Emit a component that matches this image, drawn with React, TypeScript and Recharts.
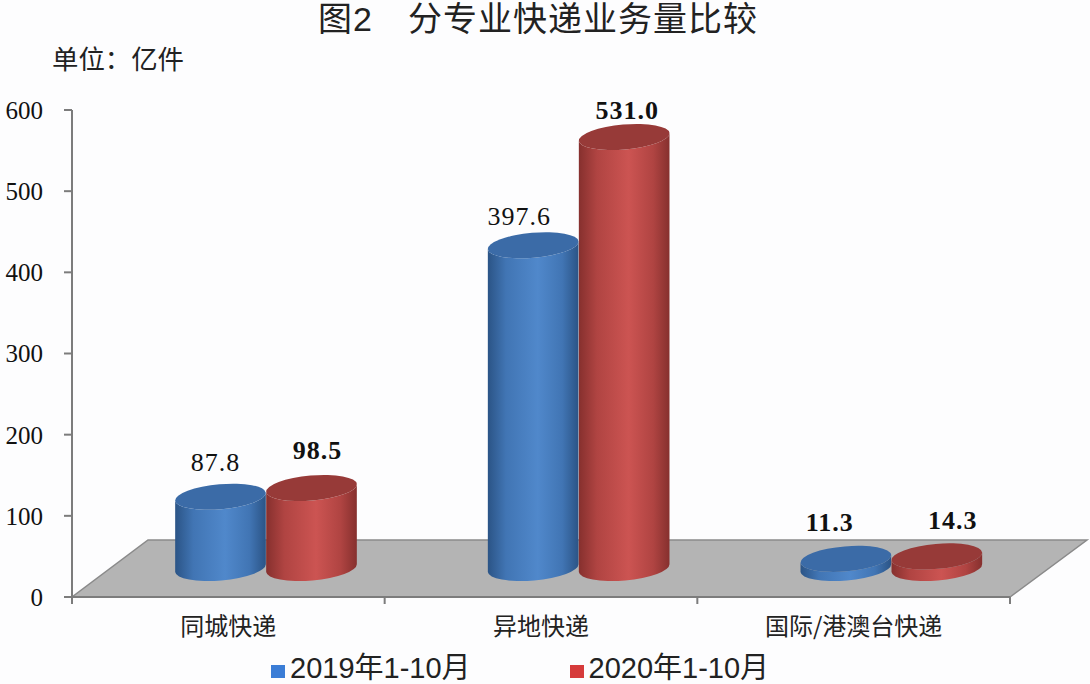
import { BarChart, Bar, XAxis, YAxis, Legend, LabelList, usePlotArea } from 'recharts'

const CATEGORIES = ['同城快递', '异地快递', '国际/港澳台快递']
const VALUES_2019 = [87.8, 397.6, 11.3]
const VALUES_2020 = [98.5, 531.0, 14.3]
const Y_TICKS = [0, 100, 200, 300, 400, 500, 600]
const NAME_2019 = '2019年1-10月'
const NAME_2020 = '2020年1-10月'

const data = CATEGORIES.map((name, i) => ({ name, a: VALUES_2019[i], b: VALUES_2020[i] }))

// the picture is a fake 3D chart: bars sit back on the floor by this much
const DEPTH_X = 38
const DEPTH_Y = 29
const RY = 12.5
const TILT = -5
const SERIF = '"Liberation Serif", serif'
const CJK = '"Noto Sans CJK SC", "Liberation Sans", sans-serif'
const MIXED = '"Liberation Sans", "Noto Sans CJK SC", sans-serif'
const AXIS = '#7c7c7c'

const TONES = {
  blue: { id: 'cylBlue', top: '#3b6ba7', edge: '#2b5486', side: '#4175b4', mid: '#5088cb' },
  red: { id: 'cylRed', top: '#973a38', edge: '#86302e', side: '#b04442', mid: '#cc5452' },
}

// label nudges from the cylinder top centre, per category
const LABEL_2019 = { dx: [-5, -14, -16], dy: [-34, -29, -36] }
const LABEL_2020 = { dx: [6, 3, 16], dy: [-38, -27, -36] }

function Floor() {
  const area = usePlotArea()
  if (!area) return null
  const { x, y, width, height } = area
  const bottom = y + height
  const step = width / CATEGORIES.length
  return (
    <g>
      <defs>
        {Object.values(TONES).map(t => (
          <linearGradient key={t.id} id={t.id} x1="0" x2="1" y1="0" y2="0">
            <stop offset="0" stopColor={t.edge} />
            <stop offset="0.2" stopColor={t.side} />
            <stop offset="0.55" stopColor={t.mid} />
            <stop offset="0.82" stopColor={t.side} />
            <stop offset="1" stopColor={t.edge} />
          </linearGradient>
        ))}
      </defs>
      <polygon
        points={`${x},${bottom} ${x + width},${bottom} ${x + width + 77},${bottom - 57} ${x + 76},${bottom - 57}`}
        fill="#b4b4b4"
        stroke="#8a8a8a"
        strokeWidth={1.5}
      />
      {[0, 1, 2, 3].map(i => (
        <line key={i} x1={x + i * step} x2={x + i * step} y1={bottom} y2={bottom + 7} stroke={AXIS} strokeWidth={2} />
      ))}
    </g>
  )
}

function Cylinder({ x, y, width, height, tone }: any) {
  const t = TONES[tone as keyof typeof TONES]
  const rx = width / 2
  const cx = x + rx + DEPTH_X
  const topY = y - DEPTH_Y
  const baseY = topY + height
  const rad = (TILT * Math.PI) / 180
  const ex = rx * Math.cos(rad)
  const ey = rx * Math.sin(rad)
  const body =
    `M${cx - ex},${topY - ey} L${cx - ex},${baseY - ey} ` +
    `A${rx},${RY} ${TILT} 0 0 ${cx + ex},${baseY + ey} ` +
    `L${cx + ex},${topY + ey} A${rx},${RY} ${TILT} 0 1 ${cx - ex},${topY - ey} Z`
  return (
    <g>
      <path d={body} fill={`url(#${t.id})`} />
      <ellipse cx={cx} cy={topY} rx={rx} ry={RY} fill={t.top} transform={`rotate(${TILT} ${cx} ${topY})`} />
    </g>
  )
}

function makeLabel(nudge: { dx: number[]; dy: number[] }, isBold: (i: number) => boolean) {
  return ({ x, y, width, value, index }: any) => (
    <text
      x={x + width / 2 + DEPTH_X + nudge.dx[index]}
      y={y - DEPTH_Y + nudge.dy[index]}
      textAnchor="middle"
      dominantBaseline="central"
      fontFamily={SERIF}
      fontSize={26}
      letterSpacing={1}
      fontWeight={isBold(index) ? 700 : 400}
      fill="#111"
    >
      {Number(value).toFixed(1)}
    </text>
  )
}

function LegendRow() {
  const items = [
    { name: NAME_2019, color: '#3b7dd6' },
    { name: NAME_2020, color: '#d63b3b' },
  ]
  return (
    <div style={{ display: 'flex', gap: 99, marginLeft: 271, marginTop: 18, fontFamily: MIXED, fontSize: 29, lineHeight: '26px', color: '#222' }}>
      {items.map(it => (
        <div key={it.name} style={{ display: 'flex', alignItems: 'center', gap: 5, whiteSpace: 'nowrap' }}>
          <span style={{ width: 14, height: 13, background: it.color, display: 'inline-block', position: 'relative', top: 3 }} />
          <span>{it.name}</span>
        </div>
      ))}
    </div>
  )
}

export default function App() {
  return (
    <div style={{ position: 'absolute', left: 0, top: 0, width: 1090, height: 684, background: '#fdfdfe', overflow: 'hidden' }}>
      <div style={{ position: 'absolute', left: 318, top: 0, lineHeight: '38px', fontFamily: MIXED, fontSize: 34, letterSpacing: 1, color: '#222', whiteSpace: 'pre' }}>图2　分专业快递业务量比较</div>
      <div style={{ position: 'absolute', left: 52, top: 38, fontFamily: CJK, fontSize: 26.4, color: '#222', whiteSpace: 'pre' }}>单位：亿件</div>
      <BarChart
        width={1090}
        height={684}
        data={data}
        margin={{ top: 110, right: 80, left: 0, bottom: 4 }}
        barCategoryGap={65}
        barGap={0}
      >
        <Floor />
        <XAxis
          dataKey="name"
          height={40}
          tickLine={false}
          axisLine={{ stroke: AXIS, strokeWidth: 2 }}
          tickMargin={15}
          interval={0}
          tick={{ fontSize: 24, fontFamily: CJK, fill: '#222' }}
        />
        <YAxis
          width={72}
          domain={[0, 600]}
          ticks={Y_TICKS}
          tickSize={8}
          tickMargin={21}
          tickLine={{ stroke: AXIS, strokeWidth: 2 }}
          axisLine={{ stroke: AXIS, strokeWidth: 2 }}
          tick={{ fontSize: 25, fontFamily: SERIF, fill: '#111' }}
        />
        <Legend verticalAlign="bottom" height={43} content={<LegendRow />} />
        <Bar dataKey="a" name={NAME_2019} isAnimationActive={false} shape={(p: any) => <Cylinder {...p} tone="blue" />}>
          <LabelList dataKey="a" content={makeLabel(LABEL_2019, i => i === 2)} />
        </Bar>
        <Bar dataKey="b" name={NAME_2020} isAnimationActive={false} shape={(p: any) => <Cylinder {...p} tone="red" />}>
          <LabelList dataKey="b" content={makeLabel(LABEL_2020, () => true)} />
        </Bar>
      </BarChart>
    </div>
  )
}
